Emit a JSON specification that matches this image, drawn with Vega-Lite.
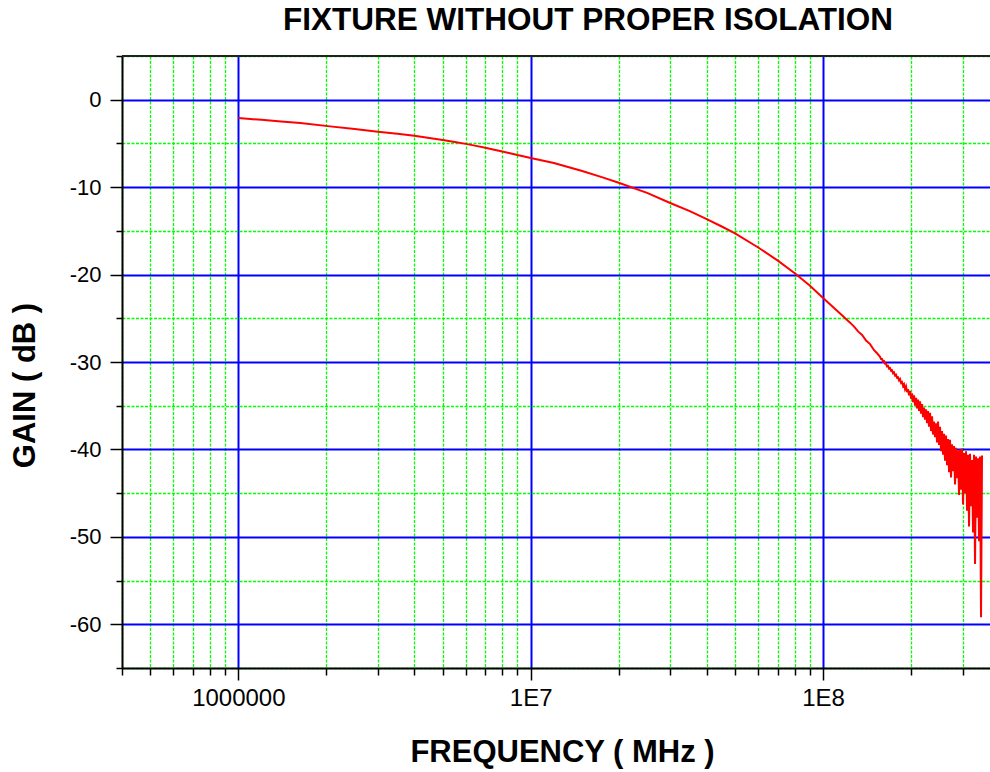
{
  "$schema": "https://vega.github.io/schema/vega-lite/v6.json",
  "autosize": {"type": "none"},
  "width": 868,
  "height": 612,
  "padding": {"left": 122, "top": 56, "right": 0, "bottom": 104},
  "background": "white",
  "config": {"view": {"stroke": null}, "font": "Liberation Sans"},
  "title": {
    "text": "FIXTURE WITHOUT PROPER ISOLATION",
    "font": "Liberation Sans",
    "fontSize": 31.5,
    "fontWeight": "bold",
    "color": "black",
    "anchor": "middle",
    "frame": "group",
    "baseline": "bottom",
    "offset": -23,
    "dx": 32
  },
  "data": {
    "values": [
      {"f": 1000000, "g": -2.09},
      {"f": 1200000, "g": -2.3},
      {"f": 1400000, "g": -2.48},
      {"f": 1630000, "g": -2.67},
      {"f": 2060000, "g": -3.05},
      {"f": 2500000, "g": -3.35},
      {"f": 3000000, "g": -3.66},
      {"f": 3500000, "g": -3.9},
      {"f": 4000000, "g": -4.13},
      {"f": 4500000, "g": -4.37},
      {"f": 5000000, "g": -4.6},
      {"f": 5500000, "g": -4.83},
      {"f": 6000000, "g": -5.05},
      {"f": 6500000, "g": -5.28},
      {"f": 7000000, "g": -5.5},
      {"f": 7500000, "g": -5.72},
      {"f": 8000000, "g": -5.93},
      {"f": 8500000, "g": -6.13},
      {"f": 9000000, "g": -6.33},
      {"f": 9500000, "g": -6.5},
      {"f": 10000000, "g": -6.66},
      {"f": 12000000, "g": -7.24},
      {"f": 15000000, "g": -8.15},
      {"f": 17500000, "g": -8.85},
      {"f": 20000000, "g": -9.5},
      {"f": 25000000, "g": -10.65},
      {"f": 30000000, "g": -11.81},
      {"f": 35000000, "g": -12.75},
      {"f": 40000000, "g": -13.65},
      {"f": 45000000, "g": -14.5},
      {"f": 50000000, "g": -15.3},
      {"f": 60000000, "g": -16.9},
      {"f": 70000000, "g": -18.4},
      {"f": 80000000, "g": -19.85},
      {"f": 90000000, "g": -21.25},
      {"f": 100000000, "g": -22.67},
      {"f": 110000000, "g": -23.95},
      {"f": 123680000, "g": -25.5},
      {"f": 127630000, "g": -25.95},
      {"f": 131710000, "g": -26.5},
      {"f": 135940000, "g": -26.9},
      {"f": 140290000, "g": -27.55},
      {"f": 144770000, "g": -27.95},
      {"f": 149420000, "g": -28.65},
      {"f": 152970000, "g": -29.0},
      {"f": 156600000, "g": -29.4},
      {"f": 157840000, "g": -29.65},
      {"f": 159090000, "g": -29.65},
      {"f": 160350000, "g": -29.95},
      {"f": 161610000, "g": -29.9},
      {"f": 162890000, "g": -30.2},
      {"f": 164180000, "g": -30.2},
      {"f": 165480000, "g": -30.5},
      {"f": 166790000, "g": -30.45},
      {"f": 168100000, "g": -30.75},
      {"f": 169430000, "g": -30.7},
      {"f": 170770000, "g": -31.0},
      {"f": 172120000, "g": -30.95},
      {"f": 173480000, "g": -31.3},
      {"f": 174850000, "g": -31.2},
      {"f": 176230000, "g": -31.55},
      {"f": 177620000, "g": -31.45},
      {"f": 179030000, "g": -31.8},
      {"f": 180440000, "g": -31.75},
      {"f": 181870000, "g": -32.1},
      {"f": 183310000, "g": -31.95},
      {"f": 184760000, "g": -32.4},
      {"f": 186220000, "g": -32.3},
      {"f": 187690000, "g": -32.75},
      {"f": 189170000, "g": -32.55},
      {"f": 190670000, "g": -33.1},
      {"f": 192180000, "g": -32.8},
      {"f": 193700000, "g": -33.45},
      {"f": 195230000, "g": -33.1},
      {"f": 196770000, "g": -33.8},
      {"f": 198330000, "g": -33.3},
      {"f": 199900000, "g": -34.2},
      {"f": 201480000, "g": -33.6},
      {"f": 203070000, "g": -34.6},
      {"f": 204680000, "g": -33.8},
      {"f": 206300000, "g": -35.0},
      {"f": 207930000, "g": -34.1},
      {"f": 209570000, "g": -35.3},
      {"f": 211230000, "g": -34.3},
      {"f": 212900000, "g": -35.6},
      {"f": 214580000, "g": -34.5},
      {"f": 216280000, "g": -35.9},
      {"f": 217990000, "g": -34.8},
      {"f": 219710000, "g": -36.3},
      {"f": 221450000, "g": -35.2},
      {"f": 223200000, "g": -36.6},
      {"f": 224960000, "g": -35.4},
      {"f": 226740000, "g": -37.0},
      {"f": 228530000, "g": -35.6},
      {"f": 230340000, "g": -37.4},
      {"f": 232160000, "g": -35.8},
      {"f": 233990000, "g": -37.9},
      {"f": 235840000, "g": -36.2},
      {"f": 237710000, "g": -38.3},
      {"f": 239590000, "g": -36.8},
      {"f": 241480000, "g": -38.6},
      {"f": 243390000, "g": -37.0},
      {"f": 245310000, "g": -39.2},
      {"f": 247250000, "g": -36.8},
      {"f": 249210000, "g": -39.5},
      {"f": 251180000, "g": -37.4},
      {"f": 253160000, "g": -40.2},
      {"f": 255160000, "g": -37.9},
      {"f": 257180000, "g": -40.6},
      {"f": 259210000, "g": -38.2},
      {"f": 261260000, "g": -41.3},
      {"f": 263330000, "g": -38.4},
      {"f": 265410000, "g": -41.8},
      {"f": 267510000, "g": -38.8},
      {"f": 269620000, "g": -42.6},
      {"f": 271750000, "g": -38.9},
      {"f": 273900000, "g": -43.2},
      {"f": 276070000, "g": -39.4},
      {"f": 278250000, "g": -42.5},
      {"f": 280450000, "g": -39.6},
      {"f": 282670000, "g": -44.0},
      {"f": 284900000, "g": -39.8},
      {"f": 287150000, "g": -43.3},
      {"f": 289420000, "g": -40.1},
      {"f": 291710000, "g": -45.2},
      {"f": 294020000, "g": -40.0},
      {"f": 296340000, "g": -44.6},
      {"f": 298690000, "g": -39.9},
      {"f": 301050000, "g": -46.3},
      {"f": 303430000, "g": -40.4},
      {"f": 305830000, "g": -45.0},
      {"f": 308250000, "g": -40.2},
      {"f": 310680000, "g": -47.0},
      {"f": 313140000, "g": -40.6},
      {"f": 315620000, "g": -48.8},
      {"f": 318110000, "g": -40.5},
      {"f": 320630000, "g": -46.5},
      {"f": 323160000, "g": -41.2},
      {"f": 325720000, "g": -49.5},
      {"f": 328290000, "g": -40.6},
      {"f": 330890000, "g": -53.1},
      {"f": 333500000, "g": -40.8},
      {"f": 336140000, "g": -47.8},
      {"f": 338800000, "g": -41.0},
      {"f": 341480000, "g": -50.5},
      {"f": 344180000, "g": -40.8},
      {"f": 346900000, "g": -59.2},
      {"f": 349640000, "g": -40.7}
    ]
  },
  "layer": [
    {
      "mark": {"type": "line", "color": "#ff0000", "strokeWidth": 2, "clip": true},
      "encoding": {
        "x": {
          "field": "f",
          "type": "quantitative",
          "scale": {"type": "log", "domain": [400000, 372300000], "nice": false},
          "axis": {
            "title": "FREQUENCY ( MHz )",
            "titleFont": "Liberation Sans",
            "titleFontSize": 31,
            "titleFontWeight": "bold",
            "titleColor": "black",
            "titleX": 440,
            "titleY": 84,
            "titleAlign": "center",
            "titleBaseline": "middle",
            "values": [400000, 500000, 600000, 700000, 800000, 900000, 1000000, 2000000, 3000000, 4000000, 5000000, 6000000, 7000000, 8000000, 9000000, 10000000, 20000000, 30000000, 40000000, 50000000, 60000000, 70000000, 80000000, 90000000, 100000000, 200000000, 300000000],
            "labelExpr": "datum.value === 1000000 ? '1000000' : datum.value === 10000000 ? '1E7' : datum.value === 100000000 ? '1E8' : ''",
            "labelFont": "Liberation Sans",
            "labelFontSize": 24,
            "labelColor": "black",
            "labelOverlap": false,
            "labelFlush": false,
            "labelBound": false,
            "labelPadding": 6,
            "domainColor": "black",
            "domainWidth": 2,
            "tickColor": "black",
            "tickWidth": 1.5,
            "tickSize": {"condition": {"test": "indexof([1000000, 10000000, 100000000], datum.value) >= 0", "value": 12}, "value": 7},
            "grid": true,
            "gridColor": {"condition": {"test": "indexof([1000000, 10000000, 100000000], datum.value) >= 0", "value": "#0000ff"}, "value": "#00ff00"},
            "gridWidth": {"condition": {"test": "indexof([1000000, 10000000, 100000000], datum.value) >= 0", "value": 2}, "value": 1.3},
            "gridDash": {"condition": {"test": "indexof([1000000, 10000000, 100000000], datum.value) >= 0", "value": []}, "value": [3, 1.5]},
            "gridOpacity": 1
          }
        },
        "y": {
          "field": "g",
          "type": "quantitative",
          "scale": {"domain": [-65, 5], "nice": false, "zero": false},
          "axis": {
            "title": "GAIN ( dB )",
            "titleFont": "Liberation Sans",
            "titleFontSize": 31,
            "titleFontWeight": "bold",
            "titleColor": "black",
            "titleAngle": 270,
            "titleX": -97,
            "titleY": 329,
            "titleAlign": "center",
            "titleBaseline": "middle",
            "values": [5, 0, -5, -10, -15, -20, -25, -30, -35, -40, -45, -50, -55, -60, -65],
            "labelExpr": "datum.value % 10 === 0 ? '' + datum.value : ''",
            "labelFont": "Liberation Sans",
            "labelFontSize": 22,
            "labelColor": "black",
            "labelOverlap": false,
            "labelFlush": false,
            "labelBound": false,
            "labelPadding": 9,
            "domainColor": "black",
            "domainWidth": 2,
            "tickColor": "black",
            "tickWidth": 1.5,
            "tickSize": {"condition": {"test": "datum.value % 10 === 0", "value": 12}, "value": 6},
            "grid": true,
            "gridColor": {"condition": {"test": "datum.value % 10 === 0", "value": "#0000ff"}, "value": "#00ff00"},
            "gridWidth": {"condition": {"test": "datum.value % 10 === 0", "value": 2}, "value": 1.3},
            "gridDash": {"condition": {"test": "datum.value % 10 === 0", "value": []}, "value": [3, 1.5]},
            "gridOpacity": 1
          }
        }
      }
    },
    {
      "mark": {"type": "rule", "color": "#222222", "strokeWidth": 2},
      "encoding": {"y": {"datum": 5}}
    }
  ]
}
